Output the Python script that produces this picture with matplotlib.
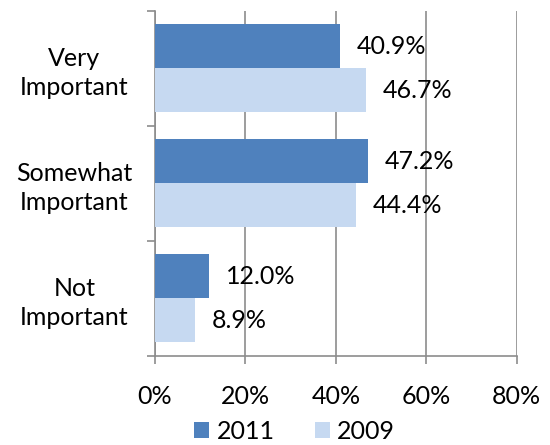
import numpy as np
import matplotlib.pyplot as plt
from matplotlib.ticker import FixedLocator, NullFormatter

plt.rcParams['font.family'] = ['Lato', 'DejaVu Sans']

categories = ["Very\nImportant", "Somewhat\nImportant", "Not\nImportant"]
years = ["2011", "2009"]
values_2011 = [40.9, 47.2, 12.0]
values_2009 = [46.7, 44.4, 8.9]
colors = ["#4F81BD", "#C6D9F1"]

fs = 18
fig = plt.figure(figsize=(5.5, 4.45), dpi=100)
ax = fig.add_axes([0.2818, 0.2007, 0.6576, 0.7746])

y = np.arange(len(categories))
h = 0.383
grid_c = "#8C8C8C"

b1 = ax.barh(y - h / 2, values_2011, height=h, color=colors[0], label=years[0], zorder=3)
b2 = ax.barh(y + h / 2, values_2009, height=h, color=colors[1], label=years[1], zorder=3)

for bars, vals in ((b1, values_2011), (b2, values_2009)):
    for bar, v in zip(bars, vals):
        ax.annotate(f"{v:.1f}%", (v, bar.get_y() + bar.get_height() / 2),
                    xytext=(12, 0), textcoords="offset points",
                    va="center", ha="left", fontsize=fs, color="#000000", zorder=4)

ax.set_xlim(0, 80)
ax.set_ylim(2.5, -0.5)
ax.set_xticks([0, 20, 40, 60, 80])
ax.set_xticklabels(["0%", "20%", "40%", "60%", "80%"], fontsize=fs)
ax.xaxis.grid(True, color=grid_c, linewidth=1.2, zorder=0)

ax.set_yticks(y)
ax.set_yticklabels(categories, fontsize=fs, ha="center", linespacing=1.28)
ax.tick_params(axis="y", which="major", length=0, pad=58)
ax.yaxis.set_minor_locator(FixedLocator([-0.5, 0.5, 1.5, 2.5]))
ax.yaxis.set_minor_formatter(NullFormatter())
ax.tick_params(axis="y", which="minor", length=6, width=1.2, color=grid_c)
ax.tick_params(axis="x", length=6, width=1.2, color=grid_c, pad=15)

for s in ("top", "right"):
    ax.spines[s].set_visible(False)
for s in ("left", "bottom"):
    ax.spines[s].set_color(grid_c)
    ax.spines[s].set_linewidth(1.2)

fig.legend(handles=[b1, b2], loc="center", bbox_to_anchor=(0.536, 0.03),
           ncol=2, frameon=False, fontsize=fs, handlelength=0.6, handleheight=0.6,
           columnspacing=1.6, handletextpad=0.3, borderpad=0)

fig.savefig("out.png", dpi=100)
